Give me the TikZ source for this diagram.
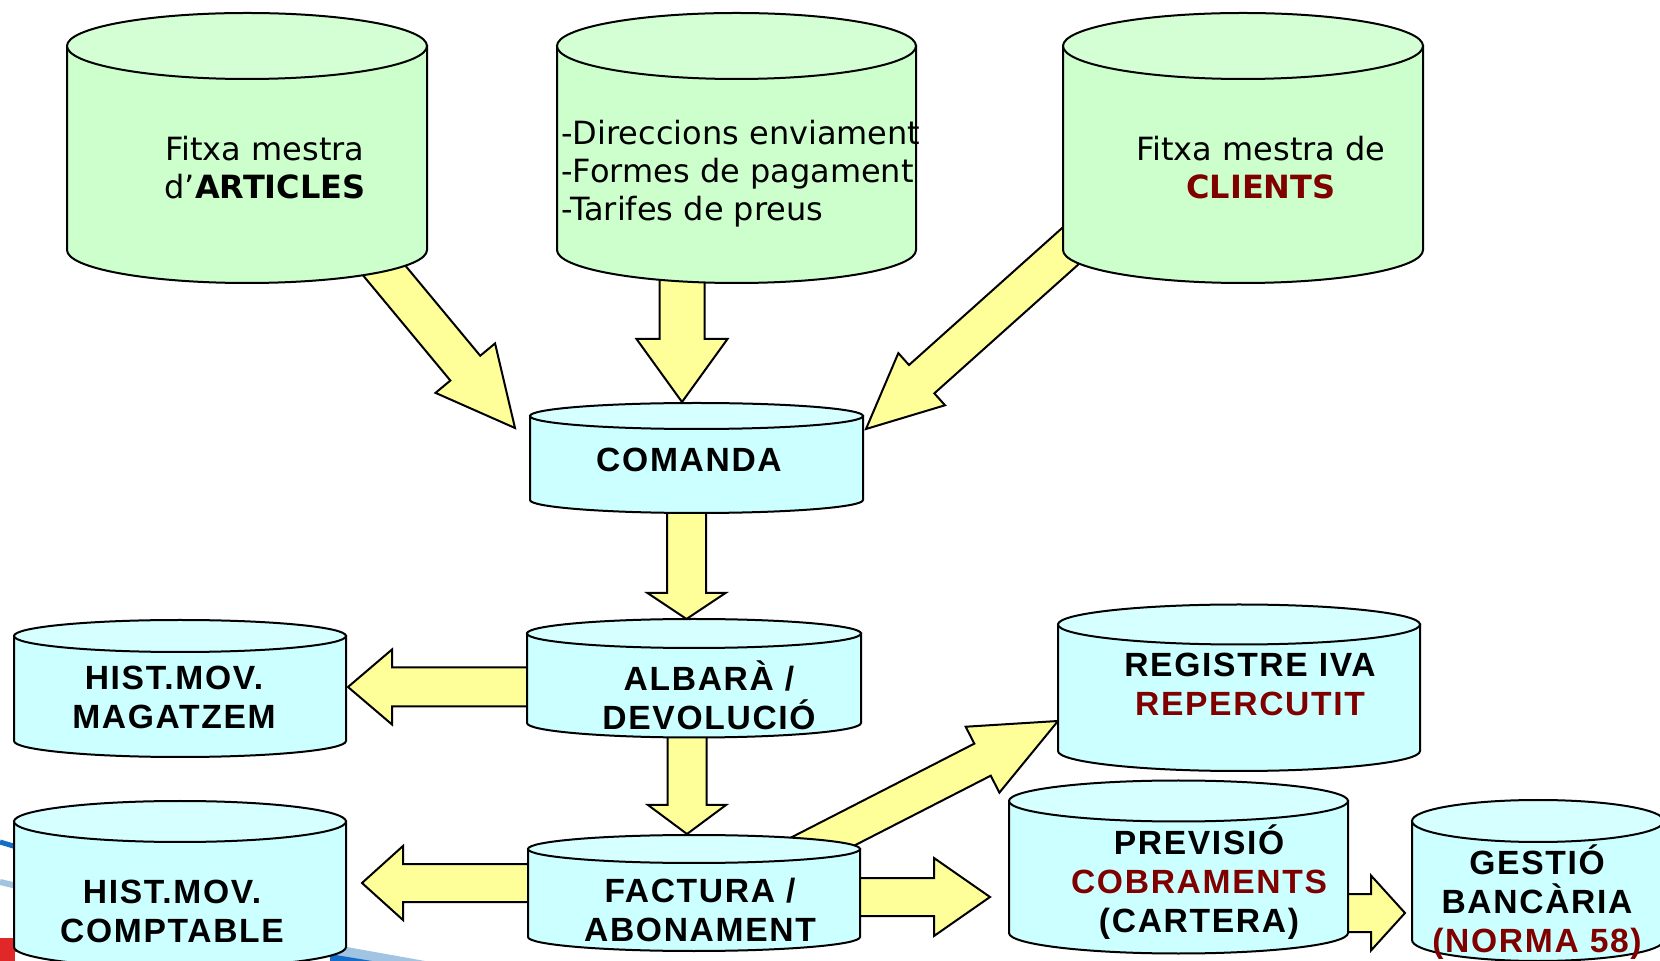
\documentclass[tikz,border=0pt]{standalone}
\usepackage{fontspec}
\setmainfont{DejaVu Sans}
\newfontfamily\labfont{Liberation Sans}[LetterSpace=5]
\usetikzlibrary{calc,fit}

\definecolor{dbgreen}{RGB}{204,255,204}
\definecolor{dbgreentop}{RGB}{212,255,212}
\definecolor{dbblue}{RGB}{204,255,255}
\definecolor{dbbluetop}{RGB}{214,255,255}
\definecolor{flowyellow}{RGB}{255,255,153}
\definecolor{darkred}{RGB}{128,0,0}
\definecolor{swooshblue}{RGB}{20,110,200}
\definecolor{swooshlight}{RGB}{160,196,226}
\definecolor{swooshred}{RGB}{225,40,40}

\tikzset{
  cyl/.style={draw=black, line width=1pt},
  flowarrow/.style={fill=flowyellow, draw=black, line width=1pt, line join=miter},
  gtxt/.style={font={\fontsize{16}{19}\selectfont}, align=center, anchor=base, inner sep=0pt},
  btxt/.style={font={\labfont\bfseries\fontsize{16.8}{19.5}\selectfont}, align=center, anchor=base, inner sep=0pt},
}

% database drum: name, left x, right x, top-ellipse centre y, bottom-ellipse centre y, y radius, fill
\newcommand\dbcyl[7]{%
  \pgfmathsetmacro\cylcx{(#2+#3)/2}%
  \pgfmathsetmacro\cylrx{(#3-#2)/2}%
  \filldraw[cyl, fill=#7] (#2,-#4) -- (#2,-#5)
    arc[start angle=180, end angle=360, x radius=\cylrx, y radius=#6] -- (#3,-#4) -- cycle;
  \filldraw[cyl, fill=#7top] (\cylcx,-#4) ellipse[x radius=\cylrx, y radius=#6];
  \node[fit={(#2,-#4) (#3,-#5)}, inner sep=0pt] (#1) {};
}

% thick block arrow: from, to, half shaft width, half head width, head length
\newcommand\blockarrow[5]{%
  \coordinate (bah) at ($(#2)!#5!(#1)$);
  \filldraw[flowarrow]
    ($(#1)!#3!90:(#2)$) -- ($(bah)!#3!90:(#2)$) -- ($(bah)!#4!90:(#2)$) -- (#2)
    -- ($(bah)!#4!-90:(#2)$) -- ($(bah)!#3!-90:(#2)$) -- ($(#1)!#3!-90:(#2)$) -- cycle;
}

\begin{document}
\begin{tikzpicture}[x=0.5pt, y=0.5pt]
\useasboundingbox (0,0) rectangle (1660,-961);
\clip (0,0) rectangle (1660,-961);
\fill[white] (0,0) rectangle (1660,-961);

% template swooshes in the lower left corner
\draw[swooshblue, line width=2.5pt] (0,-842) -- (60,-860);
\draw[swooshlight, line width=3pt] (0,-882) -- (60,-896);
\fill[swooshred] (0,-938) rectangle (50,-961);
\fill[white] (15,-952) rectangle (50,-961);
\fill[swooshlight] (330,-944) -- (425,-961) -- (330,-961) -- cycle;
\fill[swooshblue] (330,-954) -- (372,-961) -- (330,-961) -- cycle;

% arrow end points
\coordinate (art-out) at (368,-251);   \coordinate (com-in-l) at (515,-428);
\coordinate (dir-out) at (682,-240);   \coordinate (com-in-t) at (682,-402);
\coordinate (cli-out) at (1089.5,-229);\coordinate (com-in-r) at (866,-429);
\coordinate (com-out) at (686.5,-490); \coordinate (alb-in)   at (686.5,-619);
\coordinate (alb-out-l) at (540,-687); \coordinate (mag-in)   at (348,-687);
\coordinate (alb-out) at (687,-725);   \coordinate (fac-in)   at (687,-834);
\coordinate (fac-out-l) at (540,-883); \coordinate (cpt-in)   at (362,-883);
\coordinate (fac-out-r) at (850,-897); \coordinate (cob-in)   at (990,-897);
\coordinate (fac-out-u) at (773,-867); \coordinate (iva-in)   at (1058,-721);
\coordinate (cob-out) at (1340,-913);  \coordinate (ban-in)   at (1405,-913);

\blockarrow{art-out}{com-in-l}{9.7pt}{19.35pt}{38.9pt}
\blockarrow{dir-out}{com-in-t}{11.25pt}{22.75pt}{31.5pt}
\blockarrow{cli-out}{com-in-r}{9.5pt}{17.5pt}{37.35pt}
\blockarrow{com-out}{alb-in}{9.75pt}{19.5pt}{13pt}
\blockarrow{alb-out-l}{mag-in}{9.75pt}{18.75pt}{22pt}
\blockarrow{alb-out}{fac-in}{9.75pt}{19.5pt}{14.5pt}
\blockarrow{fac-out-l}{cpt-in}{9.5pt}{18.5pt}{20.5pt}
\blockarrow{fac-out-r}{cob-in}{9.5pt}{19.5pt}{28pt}
\blockarrow{fac-out-u}{iva-in}{9pt}{18.5pt}{42.4pt}
\blockarrow{cob-out}{ban-in}{9.5pt}{18.75pt}{17pt}

% master files
\dbcyl{articles}{67}{427}{46}{250}{33}{dbgreen}
\dbcyl{dades}{557}{916}{46}{250}{33}{dbgreen}
\dbcyl{clients}{1063}{1423}{46}{250}{33}{dbgreen}
% documents and registers
\dbcyl{comanda}{530}{863}{416}{500}{13}{dbblue}
\dbcyl{magatzem}{14}{346}{636}{741}{16}{dbblue}
\dbcyl{albara}{527}{861}{633.5}{723}{14.5}{dbblue}
\dbcyl{factura}{528}{860}{849}{937}{14}{dbblue}
\dbcyl{comptable}{14}{346}{821.5}{947}{20.5}{dbblue}
\dbcyl{iva}{1058}{1420}{624.5}{751}{20}{dbblue}
\dbcyl{cartera}{1009}{1348}{801}{933}{20.5}{dbblue}
\dbcyl{banca}{1412}{1664}{821}{940}{21}{dbblue}

% labels (anchored at the baseline of their last line)
\node[gtxt] (art-txt) at (265,-199) {Fitxa mestra\\d’\textbf{ARTICLES}};
\node[gtxt, anchor=base west, align=left] (dir-txt) at (561,-221)
  {-Direccions enviament\\-Formes de pagament\\-Tarifes de preus};
\node[gtxt] (cli-txt) at (1261,-199) {Fitxa mestra de\\\textcolor{darkred}{\textbf{CLIENTS}}};
\node[btxt] (com-txt) at (689,-472) {COMANDA};
\node[btxt] (mag-txt) at (174,-729) {HIST.MOV.\\MAGATZEM};
\node[btxt] (alb-txt) at (709,-730) {ALBARÀ /\\DEVOLUCIÓ};
\node[btxt] (fac-txt) at (700,-941) {FACTURA /\\ABONAMENT};
\node[btxt] (cpt-txt) at (172,-942) {HIST.MOV.\\COMPTABLE};
\node[btxt] (iva-txt) at (1250,-716) {REGISTRE IVA\\\textcolor{darkred}{REPERCUTIT}};
\node[btxt] (cob-txt) at (1199,-932) {PREVISIÓ\\\textcolor{darkred}{COBRAMENTS}\\(CARTERA)};
\node[btxt] (ban-txt) at (1537,-952) {GESTIÓ\\BANCÀRIA\\\textcolor{darkred}{(NORMA 58)}};
\end{tikzpicture}
\end{document}
